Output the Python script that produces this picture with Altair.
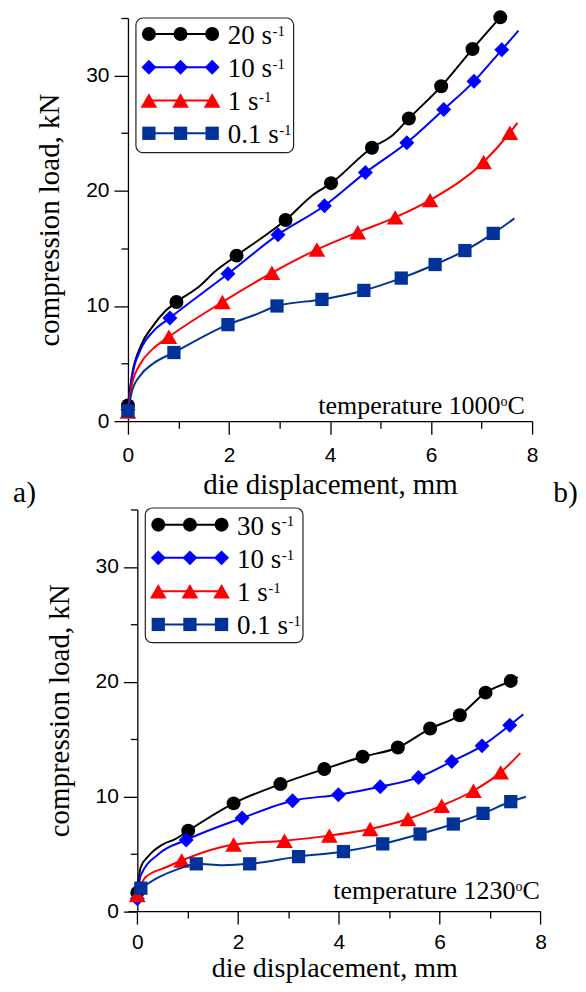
import altair as alt
import pandas as pd

# ---------------- data ----------------
# panel a) temperature 1000 C  (markers, then extra points of the curves)
a20_mx = [0.00, 0.96, 2.15, 3.12, 4.02, 4.83, 5.56, 6.20, 6.82, 7.37]
a20_my = [1.36, 10.34, 14.37, 17.46, 20.66, 23.74, 26.27, 29.07, 32.30, 35.06]
a20_lx = [0.08, 0.25, 0.50, 0.75, 1.44, 1.70, 3.68, 5.22]
a20_ly = [4.0, 6.5, 8.3, 9.6, 11.8, 12.9, 19.7, 24.75]

a10_mx = [0.00, 0.83, 1.98, 2.97, 3.89, 4.70, 5.52, 6.25, 6.85, 7.40]
a10_my = [0.98, 8.96, 12.79, 16.19, 18.70, 21.58, 24.17, 27.05, 29.50, 32.24]
a10_lx = [0.08, 0.25, 0.50, 7.73]
a10_ly = [3.8, 6.2, 7.8, 33.9]

a1_mx = [0.00, 0.81, 1.87, 2.85, 3.74, 4.55, 5.29, 5.98, 7.04, 7.56]
a1_my = [0.84, 7.32, 10.34, 12.88, 14.90, 16.40, 17.69, 19.19, 22.50, 25.04]
a1_lx = [0.08, 0.25, 0.50, 7.71]
a1_ly = [3.2, 5.0, 6.3, 25.9]

a01_mx = [0.00, 0.91, 1.98, 2.95, 3.84, 4.67, 5.41, 6.08, 6.67, 7.23]
a01_my = [0.89, 5.96, 8.38, 10.00, 10.57, 11.35, 12.42, 13.60, 14.81, 16.30]
a01_lx = [0.08, 0.25, 0.50, 2.49, 7.65]
a01_ly = [2.6, 4.0, 5.0, 9.19, 17.6]

# panel b) temperature 1230 C
b30_mx = [0.00, 1.01, 1.91, 2.84, 3.71, 4.47, 5.17, 5.81, 6.40, 6.91, 7.41]
b30_my = [1.60, 7.01, 9.39, 11.07, 12.38, 13.45, 14.26, 15.91, 17.07, 19.04, 20.06]
b30_lx = [0.065, 0.23, 0.50, 0.76, 7.55]
b30_ly = [3.8, 4.84, 5.8, 6.3, 20.4]

b10_mx = [0.00, 0.97, 2.08, 3.08, 3.99, 4.82, 5.58, 6.24, 6.84, 7.39]
b10_my = [1.07, 6.20, 8.11, 9.62, 10.15, 10.84, 11.65, 13.04, 14.40, 16.20]
b10_lx = [0.065, 0.43, 7.66]
b10_ly = [3.1, 5.0, 17.16]

b1_mx = [0.00, 0.88, 1.91, 2.92, 3.81, 4.62, 5.37, 6.04, 6.67, 7.21]
b1_my = [1.40, 4.41, 5.80, 6.14, 6.58, 7.16, 8.03, 9.19, 10.49, 12.09]
b1_lx = [0.16, 0.56, 7.60]
b1_ly = [2.96, 3.8, 13.77]

b01_mx = [0.07, 1.17, 2.23, 3.20, 4.09, 4.87, 5.61, 6.27, 6.86, 7.41]
b01_my = [2.00, 4.12, 4.12, 4.75, 5.19, 5.86, 6.72, 7.59, 8.52, 9.54]
b01_lx = [0.43, 0.82, 1.70, 7.71]
b01_ly = [2.96, 3.68, 4.0, 9.97]

labels_a = ["20 s", "10 s", "1 s", "0.1 s"]
labels_b = ["30 s", "10 s", "1 s", "0.1 s"]
sup_text = "-1"
temp_a = "temperature 1000"
temp_b = "temperature 1230"

COLORS = ["#000000", "#0000ff", "#ff0000", "#003399"]
SHAPES = ["circle", "diamond", "triangle-up", "square"]
SIZES = [196, 225, 280, 177]

SERIF = "Liberation Serif"
SANS = "Liberation Sans"

ADV = {" ": 250, ".": 250, "s": 389, "C": 667, "o": 500}


def tw(s, fs):
    return sum(ADV.get(c, 500) for c in s) * fs / 1000.0


one = alt.Data(values=[{"k": 0}])


def txt(s, x, y, fs, align="left", font=SERIF):
    return alt.Chart(one).mark_text(
        text=s, font=font, fontSize=fs, align=align, baseline="alphabetic", color="black"
    ).encode(x=alt.value(x), y=alt.value(y))


def make_panel(series, labels, temp, xmin, w, h, yoff, xlp, xtp, xfs, box_y0, rows, temp_right, temp_base,
               extra=()):
    xs = alt.Scale(domain=[xmin, 8], nice=False, zero=False)
    ys = alt.Scale(domain=[0, 35], nice=False, zero=False)
    common = dict(
        grid=False, domainColor="black", tickColor="black", domainWidth=1.3, tickWidth=1.3,
        labelFont=SANS, labelFontSize=21, labelColor="black", labelFlush=False, labelOverlap=False,
        titleFont=SERIF, titleFontWeight="normal", titleColor="black",
    )
    xa = alt.Axis(
        values=list(range(0, 9)),
        tickSize={"condition": {"test": "datum.value % 2 === 0", "value": 13}, "value": 7},
        labelExpr="datum.value % 2 === 0 ? datum.label : ''",
        labelPadding=xlp, titlePadding=xtp, titleFontSize=xfs, title="die displacement, mm", **common,
    )
    ya = alt.Axis(
        values=list(range(0, 36, 5)),
        tickSize={"condition": {"test": "datum.value % 10 === 0", "value": 14}, "value": 7},
        labelExpr="datum.value % 10 === 0 ? datum.label : ''",
        labelPadding=5, titlePadding=21, titleFontSize=29, offset=yoff, title="compression load, kN", **common,
    )
    layers = []
    for i, (mx, my, lx, ly) in enumerate(series):
        pts = sorted(zip(mx + lx, my + ly))
        dl = pd.DataFrame({"x": [p[0] for p in pts], "y": [p[1] for p in pts]})
        dm = pd.DataFrame({"x": mx, "y": my})
        enc = dict(x=alt.X("x:Q", scale=xs, axis=xa), y=alt.Y("y:Q", scale=ys, axis=ya))
        layers.append(alt.Chart(dl).mark_line(color=COLORS[i], strokeWidth=2, interpolate="monotone").encode(**enc))
        layers.append(alt.Chart(dm).mark_point(shape=SHAPES[i], size=SIZES[i], filled=True, opacity=1,
                                               color=COLORS[i]).encode(**enc))
    # legend box
    sx = -yoff
    layers.append(alt.Chart(one).mark_rect(fill="white", stroke="#222222", strokeWidth=1.2, cornerRadius=7).encode(
        x=alt.value(sx + 8), x2=alt.value(sx + 166), y=alt.value(box_y0), y2=alt.value(box_y0 + 135)))
    mxs = [sx + 21, sx + 52.7, sx + 84.4]
    for i, ry in enumerate(rows):
        layers.append(alt.Chart(one).mark_rule(color=COLORS[i], strokeWidth=2).encode(
            x=alt.value(mxs[0]), x2=alt.value(mxs[2]), y=alt.value(ry)))
        for px in mxs:
            layers.append(alt.Chart(one).mark_point(shape=SHAPES[i], size=SIZES[i], filled=True, opacity=1,
                                                    color=COLORS[i]).encode(x=alt.value(px), y=alt.value(ry)))
        tx = sx + 100
        layers.append(txt(labels[i], tx, ry + 10, 27))
        layers.append(txt(sup_text, tx + tw(labels[i], 27) + 0.5, ry + 1.8, 15))
    # temperature note
    wc = tw("C", 26)
    wo = tw("o", 14)
    layers.append(txt("C", temp_right, temp_base, 26, align="right"))
    layers.append(txt("o", temp_right - wc, temp_base - 8, 14, align="right"))
    layers.append(txt(temp, temp_right - wc - wo, temp_base, 26, align="right"))
    layers.extend(extra)
    return alt.layer(*layers).properties(width=w, height=h)


top = make_panel(
    [(a20_mx, a20_my, a20_lx, a20_ly), (a10_mx, a10_my, a10_lx, a10_ly),
     (a1_mx, a1_my, a1_lx, a1_ly), (a01_mx, a01_my, a01_lx, a01_ly)],
    labels_a, temp_a, 0, 405, 404, 0, 10.5, 4.6, 29, 0, [16, 49.3, 82.6, 115.5], 397.7, 396.7,
    extra=[txt("a)", -115.1, 485.5, 29.5), txt("b)", 450.7, 485.5, 29.5, align="right")],
)

PX_B = 50.5
OFF_B = 9.4
bottom = make_panel(
    [(b30_mx, b30_my, b30_lx, b30_ly), (b10_mx, b10_my, b10_lx, b10_ly),
     (b1_mx, b1_my, b1_lx, b1_ly), (b01_mx, b01_my, b01_lx, b01_ly)],
    labels_b, temp_b, -OFF_B / PX_B, 8 * PX_B + OFF_B, 402.5, -OFF_B, 7, 3.0, 28, -1.5, [15.2, 48.5, 82, 115.2],
    412.7, 390.2,
)

chart = alt.vconcat(top, bottom, spacing=88.5, bounds="flush").properties(
    padding={"left": 4.2, "top": -2.0, "right": 0, "bottom": 0}
).configure_view(stroke=None)

chart.save("out.html", embed_options={"renderer": "svg", "actions": False})
